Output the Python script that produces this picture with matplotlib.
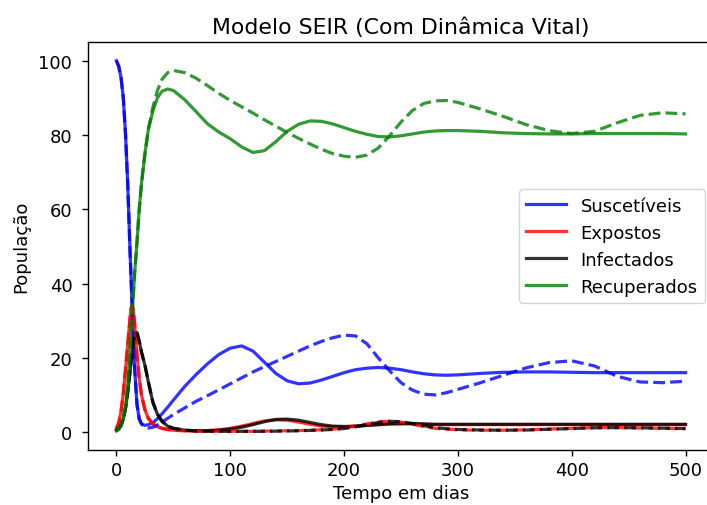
import matplotlib
matplotlib.use('Agg')
import matplotlib.pyplot as plt

# ── data (days, population %) ──
days = [0, 2, 4, 6, 8, 10, 12, 13, 14, 15, 16, 18, 20, 22, 25, 28, 32, 36, 40, 45, 50,
        60, 70, 80, 90, 100, 110, 120, 130, 140, 150, 160, 170, 180, 190, 200,
        210, 220, 230, 240, 250, 260, 270, 280, 290, 300,
        320, 340, 360, 380, 400, 420, 440, 460, 480, 500]

# solid curves
S_solid = [100, 98.5, 95.5, 90, 80, 66, 48, 40, 32, 24, 17, 7.5, 3.5, 2.2, 1.8, 2.0, 2.5, 3.6, 4.9, 6.7, 8.6,
           12.3, 15.5, 18.4, 20.9, 22.6, 23.2, 21.8, 18.8, 15.8, 13.8, 13.0, 13.2, 14.0, 15.0, 16.0,
           16.8, 17.2, 17.4, 17.2, 16.8, 16.2, 15.7, 15.4, 15.3, 15.4,
           15.8, 16.1, 16.2, 16.2, 16.1, 16.0, 16.0, 16.0, 16.0, 16.0]
E_solid = [1.0, 2.5, 5.5, 10.5, 17, 24, 31, 33.5, 34.2, 32.5, 29, 21, 14.5, 10, 6, 3.7, 2.2, 1.4, 1.0, 0.7, 0.5,
           0.35, 0.3, 0.4, 0.6, 1.0, 1.6, 2.3, 3.0, 3.3, 3.2, 2.7, 2.1, 1.6, 1.4, 1.4,
           1.6, 1.8, 2.0, 2.2, 2.2, 2.2, 2.1, 2.0, 2.0, 2.0,
           2.0, 2.0, 2.0, 2.0, 2.0, 2.0, 2.0, 2.0, 2.0, 2.0]
I_solid = [0.5, 0.9, 1.8, 3.5, 6.5, 11, 16.5, 19.5, 22, 24.5, 26, 26.8, 24.5, 21.5, 18, 13.5, 8, 4.8, 2.9, 1.6, 1.0,
           0.5, 0.35, 0.35, 0.5, 0.8, 1.3, 2.0, 2.8, 3.4, 3.5, 3.2, 2.6, 2.0, 1.6, 1.5,
           1.6, 1.8, 2.0, 2.2, 2.3, 2.3, 2.2, 2.1, 2.1, 2.1,
           2.1, 2.1, 2.1, 2.1, 2.1, 2.1, 2.1, 2.1, 2.1, 2.1]
R_solid = [0.3, 0.8, 1.8, 3.5, 7, 13, 22, 28, 33, 38, 43, 51, 60, 67, 75, 81.5, 86.5, 90, 91.8, 92.4, 92.0,
           89.5, 86.3, 83, 80.8, 79, 76.8, 75.3, 75.8, 78.2, 81, 82.9, 83.8, 83.7, 83, 82,
           81, 80.2, 79.6, 79.5, 79.8, 80.3, 80.8, 81.1, 81.2, 81.2,
           81.0, 80.6, 80.4, 80.3, 80.3, 80.4, 80.4, 80.4, 80.4, 80.3]

# dashed curves
S_dash = [100, 98.5, 95.5, 90, 80, 66, 48, 40, 32, 24, 17, 7.5, 3.5, 2.2, 1.3, 1.1, 1.3, 1.9, 2.7, 3.7, 4.7,
          6.5, 8.3, 9.8, 11.4, 13.0, 14.6, 16.2, 17.6, 19.0, 20.4, 21.8, 23.2, 24.4, 25.4, 26.1,
          25.9, 23.8, 20.0, 16.5, 13.3, 11.3, 10.2, 10.0, 10.6, 11.5,
          13.3, 15.3, 17.3, 18.7, 19.2, 17.8, 15.0, 13.5, 13.3, 13.7]
E_dash = [1.0, 2.5, 5.5, 10.5, 17, 24, 31, 33.5, 34.2, 32.5, 29, 21, 14.5, 10, 6, 3.7, 2.2, 1.4, 1.0, 0.7, 0.5,
          0.35, 0.25, 0.2, 0.2, 0.2, 0.2, 0.2, 0.25, 0.3, 0.35, 0.4, 0.5, 0.6, 0.8, 1.1,
          1.6, 2.2, 2.7, 2.9, 2.7, 2.1, 1.5, 1.0, 0.8, 0.6,
          0.5, 0.5, 0.6, 0.8, 1.0, 1.2, 1.2, 1.1, 1.0, 0.9]
I_dash = [0.5, 0.9, 1.8, 3.5, 6.5, 11, 16.5, 19.5, 22, 24.5, 26, 26.8, 24.5, 21.5, 18, 13.5, 8, 4.8, 2.9, 1.6, 1.0,
          0.5, 0.3, 0.2, 0.2, 0.2, 0.2, 0.2, 0.2, 0.25, 0.3, 0.35, 0.45, 0.55, 0.7, 0.95,
          1.4, 2.0, 2.6, 2.9, 2.8, 2.3, 1.7, 1.2, 0.9, 0.7,
          0.55, 0.5, 0.55, 0.75, 0.95, 1.15, 1.2, 1.15, 1.05, 0.95]
R_dash = [0.3, 0.8, 1.8, 3.5, 7, 13, 22, 28, 33, 38, 43, 51, 60, 67, 75, 81.5, 87.5, 92, 95, 96.8, 97.4,
          96.8, 95.3, 93.3, 91.2, 89.3, 87.6, 85.9, 84.1, 82.4, 80.7, 79.1, 77.6, 76.2, 75.0, 74.3,
          74.0, 74.6, 76.5, 79.8, 83.5, 86.6, 88.5, 89.2, 89.3, 88.8,
          87.0, 85.0, 82.8, 81.2, 80.4, 81.0, 83.3, 85.3, 86.0, 85.7]

labels = ['Suscetíveis', 'Expostos', 'Infectados', 'Recuperados']
colors = ['b', 'r', 'k', 'g']

plt.rcParams['font.family'] = ['DejaVu Sans']

fig = plt.figure(figsize=(7.07, 5.06), dpi=100)
# right edge of the axes falls just outside the picture, as in the reference
ax = fig.add_axes([0.1245, 0.109, 0.8854, 0.8055])

solid = [S_solid, E_solid, I_solid, R_solid]
dashed = [S_dash, E_dash, I_dash, R_dash]
for vals, c, lab in zip(solid, colors, labels):
    ax.plot(days, vals, c, alpha=0.8, lw=2.3, label=lab)
for vals, c in zip(dashed, colors):
    ax.plot(days, vals, c, alpha=0.8, lw=2.3, ls='--')

ax.set_title('Modelo SEIR (Com Dinâmica Vital)', fontsize=15.8, pad=7)
ax.set_xlabel('Tempo em dias', fontsize=13, labelpad=3)
ax.set_ylabel('População', fontsize=13, labelpad=6)
ax.tick_params(axis='y', labelsize=13, length=4.3, width=1, pad=7)
ax.tick_params(axis='x', labelsize=13, length=4.3, width=1, pad=4)
for sp in ax.spines.values():
    sp.set_linewidth(1)
ax.legend(loc='center right', fontsize=13, handlelength=2.2)

fig.savefig('out.png', dpi=100)
